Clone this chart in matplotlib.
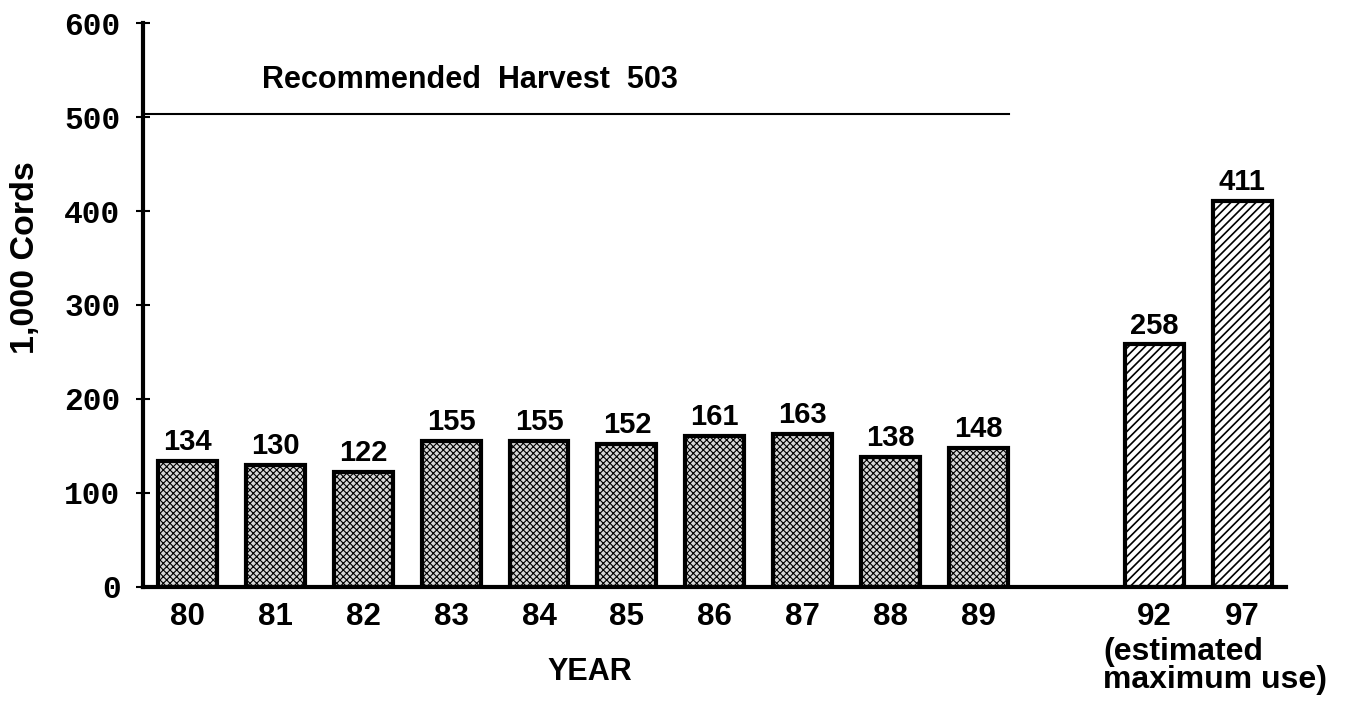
import matplotlib.pyplot as plt

# values (1,000 cords)
years = ["80", "81", "82", "83", "84", "85", "86", "87", "88", "89"]
actual = [134, 130, 122, 155, 155, 152, 161, 163, 138, 148]
proj_years = ["92", "97"]
projected = [258, 411]
harvest = 503

pos_actual = list(range(len(years)))
pos_proj = [11, 12]

plt.rcParams['hatch.linewidth'] = 0.8
fig = plt.figure(figsize=(13.47, 7.01), dpi=100)
ax = fig.add_axes([0.106, 0.163, 0.849, 0.804])

plt.rcParams['hatch.color'] = '#959595'
ax.bar(pos_actual, actual, width=0.67, color='#d6d6d6', edgecolor='black',
       linewidth=3, hatch='xxxxx', zorder=2)
plt.rcParams['hatch.linewidth'] = 1.2
bars2 = ax.bar(pos_proj, projected, width=0.67, color='white', edgecolor='black',
               linewidth=3, hatch='////', zorder=2)
for b in bars2:
    b._hatch_color = (0, 0, 0, 1)

lab_font = dict(family='Liberation Sans', fontweight='bold', fontsize=21)
for x, v in zip(pos_actual + pos_proj, actual + projected):
    ax.text(x, v + 5, str(v), ha='center', va='bottom', **lab_font)

# recommended harvest line
ax.plot([-0.506, 9.35], [harvest, harvest], color='black', linewidth=1.5, zorder=3)
ax.text(0.85, harvest + 20, "Recommended  Harvest  503", ha='left', va='bottom',
        family='Liberation Sans', fontweight='bold', fontsize=22)

ax.set_xlim(-0.506, 12.5)
ax.set_ylim(0, 600)
ax.set_yticks([0, 100, 200, 300, 400, 500, 600])
ax.set_yticklabels([0, 100, 200, 300, 400, 500, 600], family='Liberation Mono',
                   fontweight='bold', fontsize=22.5)
ax.set_xticks(pos_actual + pos_proj)
ax.set_xticklabels(years + proj_years, family='Liberation Sans',
                   fontweight='bold', fontsize=22.5)
ax.tick_params(axis='y', direction='inout', length=10, width=1.5, pad=11)
ax.tick_params(axis='x', length=0, pad=11)

for s in ['top', 'right']:
    ax.spines[s].set_visible(False)
ax.spines['left'].set_linewidth(3)
ax.spines['bottom'].set_linewidth(3)

fig.text(0.438, 0.041, "YEAR", ha='center', va='center',
         family='Liberation Sans', fontweight='bold', fontsize=22)
fig.text(0.019, 0.632, "1,000 Cords", ha='center', va='center', rotation=90,
         family='Liberation Sans', fontweight='bold', fontsize=24.5)
fig.text(0.819, 0.05, "(estimated\nmaximum use)", ha='left', va='center',
         linespacing=0.9, family='Liberation Sans', fontweight='bold', fontsize=23)

fig.savefig("out.png", dpi=100)
